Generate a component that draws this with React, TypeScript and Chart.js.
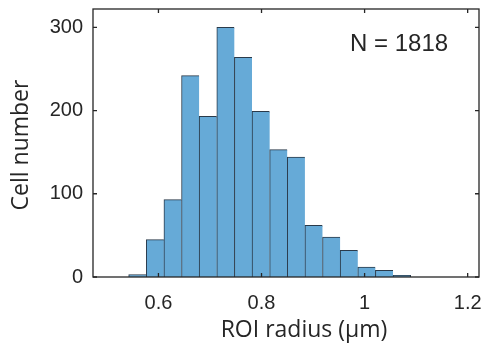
import React, { useEffect, useRef } from "react";
import { Chart, registerables } from "chart.js";

Chart.register(...registerables);

// Histogram bin edges (µm) and counts per bin
const binEdges = [0.5422, 0.5764, 0.6106, 0.6448, 0.679, 0.7132, 0.7474, 0.7816, 0.8158, 0.85, 0.8842, 0.9184, 0.9526, 0.9868, 1.021, 1.0552, 1.0894];
const binCounts = [3, 45, 93, 242, 193, 300, 264, 199, 153, 144, 62, 48, 32, 12, 8, 2];
const xTickValues = [0.6, 0.8, 1, 1.2];
const yTickValues = [0, 100, 200, 300];
const xLabel = "ROI radius (μm)";
const yLabel = "Cell number";
const annotation = "N = 1818";

const AXIS_COLOR = "#262626";
const TICK_FONT = "'Liberation Sans', Arial, sans-serif";
const TITLE_FONT = "'Open Sans', 'Noto Sans', sans-serif";

export default function App() {
  const ref = useRef<HTMLCanvasElement | null>(null);

  useEffect(() => {
    document.body.style.margin = "0";
    const canvas = ref.current;
    if (!canvas) return;

    const points = binCounts.map((c, i) => ({ x: (binEdges[i] + binEdges[i + 1]) / 2, y: c }));
    const last = points.length - 1;

    const framePlugin = {
      id: "frame",
      afterDraw(chart: any) {
        const { ctx, chartArea } = chart;
        const { left, right, top, bottom } = chartArea;
        const xs = chart.scales.x;
        const ys = chart.scales.y;
        ctx.save();
        ctx.strokeStyle = AXIS_COLOR;
        ctx.lineWidth = 1.3;
        ctx.strokeRect(left, top, right - left, bottom - top);
        const tl = 4;
        ctx.beginPath();
        xTickValues.forEach((v) => {
          const px = xs.getPixelForValue(v);
          ctx.moveTo(px, bottom);
          ctx.lineTo(px, bottom - tl);
          ctx.moveTo(px, top);
          ctx.lineTo(px, top + tl);
        });
        yTickValues.forEach((v) => {
          const py = ys.getPixelForValue(v);
          ctx.moveTo(left, py);
          ctx.lineTo(left + tl, py);
          ctx.moveTo(right, py);
          ctx.lineTo(right - tl, py);
        });
        ctx.stroke();

        ctx.fillStyle = AXIS_COLOR;
        // annotation
        ctx.font = `24px ${TICK_FONT}`;
        ctx.textAlign = "left";
        ctx.textBaseline = "alphabetic";
        ctx.fillText(annotation, 350, 51);
        // x title
        ctx.font = `23px ${TITLE_FONT}`;
        ctx.textAlign = "center";
        ctx.fillText(xLabel, 304, 337);
        // y title
        ctx.translate(28, 145);
        ctx.rotate(-Math.PI / 2);
        ctx.fillText(yLabel, 0, 0);
        ctx.restore();
      },
    };

    const chart = new Chart(canvas, {
      type: "bar",
      data: {
        datasets: [
          {
            data: points,
            backgroundColor: "rgb(102,170,215)",
            borderColor: "#2a3a4a",
            borderWidth: (c: any) => ({ top: 1, left: 1, bottom: 0, right: c.dataIndex === last ? 1 : 0 }),
            borderSkipped: false,
            barPercentage: 1,
            categoryPercentage: 1,
          },
        ],
      },
      options: {
        responsive: false,
        animation: false,
        layout: { padding: { top: 9, right: 5, left: 0, bottom: 0 } },
        plugins: { legend: { display: false }, tooltip: { enabled: false } },
        scales: {
          x: {
            type: "linear",
            min: 0.473,
            max: 1.222,
            offset: false,
            grid: { display: false, offset: false, drawTicks: false },
            border: { display: false },
            afterBuildTicks: (s: any) => {
              s.ticks = xTickValues.map((v) => ({ value: v }));
            },
            afterFit: (s: any) => {
              s.height = 71;
              s.paddingLeft = 0;
              s.paddingRight = 0;
            },
            ticks: {
              padding: 14,
              maxRotation: 0,
              autoSkip: false,
              color: AXIS_COLOR,
              font: { size: 20, family: TICK_FONT },
              callback: (v: any) => String(v),
            },
          },
          y: {
            min: 0,
            max: 322,
            grid: { display: false, drawTicks: false },
            border: { display: false },
            afterBuildTicks: (s: any) => {
              s.ticks = yTickValues.map((v) => ({ value: v }));
            },
            afterFit: (s: any) => {
              s.width = 93;
              s.paddingTop = 0;
              s.paddingBottom = 0;
            },
            ticks: {
              padding: 10,
              color: AXIS_COLOR,
              font: { size: 20, family: TICK_FONT },
              callback: (v: any) => String(v),
            },
          },
        },
      },
      plugins: [framePlugin],
    } as any);

    return () => chart.destroy();
  }, []);

  return <canvas ref={ref} width={484} height={348} style={{ display: "block" }} />;
}
